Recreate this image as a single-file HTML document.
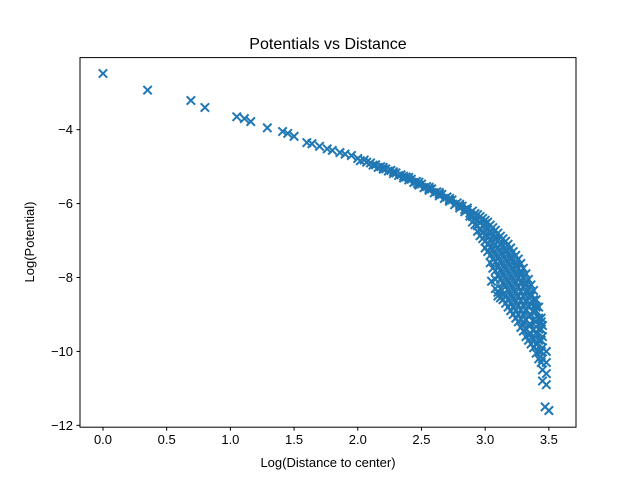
<!DOCTYPE html>
<html><head><meta charset="utf-8"><style>
body{margin:0;background:#fff}
svg{display:block;font-family:"Liberation Sans","DejaVu Sans",sans-serif}
</style></head><body>
<svg id="chart" width="640" height="480">
<rect width="640" height="480" fill="#fff"/>
<text x="328" y="49" font-size="16" text-anchor="middle">Potentials vs Distance</text>
<text x="328" y="467" font-size="13" text-anchor="middle">Log(Distance to center)</text>
<text x="34" y="242" font-size="13" text-anchor="middle" transform="rotate(-90 34 242)">Log(Potential)</text>
<g id="marks"></g>
<g id="axes"></g>
<rect x="80" y="57.6" width="496" height="369.6" fill="none" stroke="#000" stroke-width="1"/>
</svg>
<script>
const xTicks=[0,0.5,1,1.5,2,2.5,3,3.5];
const xTickLabels=["0.0","0.5","1.0","1.5","2.0","2.5","3.0","3.5"];
const yTicks=[-4,-6,-8,-10,-12];
const yTickLabels=["\u22124","\u22126","\u22128","\u221210","\u221212"];
const sparseX=[0,0.35,0.69,0.80,1.05,1.11,1.16,1.29,1.41,1.45,1.50,1.60,1.64,1.70,1.76,1.80,1.86,1.90,1.95,2.00,2.05,2.10,2.14,2.18,2.22,2.26,2.30,2.34,2.38,2.42,2.46,2.50,2.54,2.58,2.62,2.66,2.70,2.74,2.78,2.82,2.86,2.47,2.56,2.64,2.72,2.80,2.84,2.88,2.36,2.28,2.20];
const sparseY=[-2.48,-2.93,-3.21,-3.40,-3.65,-3.70,-3.78,-3.95,-4.05,-4.10,-4.18,-4.35,-4.38,-4.45,-4.52,-4.56,-4.62,-4.66,-4.70,-4.78,-4.82,-4.90,-4.95,-5.00,-5.06,-5.10,-5.17,-5.22,-5.28,-5.34,-5.40,-5.47,-5.54,-5.60,-5.68,-5.75,-5.82,-5.90,-5.98,-6.07,-6.17,-5.46,-5.60,-5.74,-5.90,-6.06,-6.16,-6.26,-5.26,-5.14,-5.02];
const curveX=[2.02,2.07,2.12,2.16,2.20,2.24,2.28,2.32,2.36,2.40,2.44,2.48,2.52,2.56,2.60,2.64,2.68,2.72,2.76,2.80,2.84,2.88,2.40,2.48,2.56,2.64,2.72,2.80,2.86];
const curveY=[-4.84,-4.88,-4.96,-5.02,-5.07,-5.12,-5.19,-5.24,-5.31,-5.36,-5.43,-5.50,-5.57,-5.64,-5.71,-5.79,-5.86,-5.94,-6.03,-6.12,-6.22,-6.34,-5.29,-5.42,-5.56,-5.70,-5.86,-6.02,-6.12];
const bandX=[2.90,2.90,2.90,2.94,2.94,2.94,2.94,2.98,2.98,2.98,2.98,3.02,3.02,3.02,3.02,3.02,3.06,3.06,3.06,3.06,3.06,3.06,3.10,3.10,3.10,3.10,3.10,3.10,3.10,3.14,3.14,3.14,3.14,3.14,3.14,3.14,3.14,3.18,3.18,3.18,3.18,3.18,3.18,3.18,3.18,3.22,3.22,3.22,3.22,3.22,3.22,3.22,3.22,3.26,3.26,3.26,3.26,3.26,3.26,3.26,3.26,3.30,3.30,3.30,3.30,3.30,3.30,3.30,3.30,3.34,3.34,3.34,3.34,3.34,3.34,3.34,3.34,3.38,3.38,3.38,3.38,3.38,3.38,3.38,3.42,3.42,3.42,3.42,3.42,3.42,3.45,3.45,3.45,3.45,3.45,3.45,3.48,3.48,3.48,3.48,3.47,3.50,3.05,3.08,3.10,3.00,3.04,3.08,3.12,3.16,3.20,3.24,3.28,3.32,3.36,3.40,3.44];
const bandY=[-6.2,-6.35,-6.5,-6.3,-6.45,-6.6,-6.75,-6.4,-6.6,-6.8,-6.95,-6.5,-6.7,-6.9,-7.1,-7.3,-6.65,-6.85,-7.05,-7.25,-7.5,-7.75,-6.8,-7.0,-7.2,-7.45,-7.7,-7.95,-8.4,-6.95,-7.15,-7.4,-7.65,-7.9,-8.15,-8.45,-8.6,-7.1,-7.35,-7.6,-7.85,-8.1,-8.35,-8.6,-8.8,-7.3,-7.55,-7.8,-8.05,-8.3,-8.55,-8.8,-9.0,-7.5,-7.75,-8.0,-8.25,-8.5,-8.75,-9.0,-9.2,-7.75,-8.0,-8.25,-8.5,-8.75,-9.0,-9.25,-9.45,-8.05,-8.3,-8.55,-8.8,-9.05,-9.3,-9.55,-9.7,-8.35,-8.6,-8.9,-9.15,-9.4,-9.65,-9.9,-8.8,-9.1,-9.4,-9.7,-10.0,-10.2,-9.3,-9.6,-9.9,-10.2,-10.5,-10.8,-10.0,-10.3,-10.6,-10.9,-11.5,-11.6,-8.1,-8.3,-8.5,-6.55,-6.75,-6.95,-7.1,-7.3,-7.5,-7.7,-7.95,-8.2,-8.5,-8.8,-9.2];
const band2X=[2.92,2.92,2.92,2.96,2.96,2.96,2.96,3.00,3.00,3.00,3.00,3.00,3.04,3.04,3.04,3.04,3.04,3.04,3.08,3.08,3.08,3.08,3.08,3.08,3.08,3.12,3.12,3.12,3.12,3.12,3.12,3.12,3.12,3.16,3.16,3.16,3.16,3.16,3.16,3.16,3.16,3.20,3.20,3.20,3.20,3.20,3.20,3.20,3.20,3.24,3.24,3.24,3.24,3.24,3.24,3.24,3.24,3.28,3.28,3.28,3.28,3.28,3.28,3.28,3.28,3.32,3.32,3.32,3.32,3.32,3.32,3.32,3.32,3.36,3.36,3.36,3.36,3.36,3.36,3.36,3.40,3.40,3.40,3.40,3.40,3.40,3.44,3.44,3.44,3.44,3.44];
const band2Y=[-6.27,-6.42,-6.57,-6.35,-6.52,-6.7,-6.87,-6.45,-6.65,-6.85,-7.02,-7.2,-6.58,-6.78,-6.98,-7.18,-7.4,-7.6,-6.72,-6.92,-7.12,-7.35,-7.58,-7.82,-8.05,-6.88,-7.08,-7.3,-7.55,-7.8,-8.05,-8.3,-8.55,-7.02,-7.25,-7.5,-7.75,-8.0,-8.25,-8.5,-8.7,-7.2,-7.45,-7.7,-7.95,-8.2,-8.45,-8.7,-8.9,-7.4,-7.65,-7.9,-8.15,-8.4,-8.65,-8.9,-9.1,-7.62,-7.87,-8.12,-8.37,-8.62,-8.87,-9.12,-9.35,-7.9,-8.15,-8.4,-8.65,-8.9,-9.15,-9.4,-9.6,-8.2,-8.45,-8.72,-9.0,-9.28,-9.52,-9.8,-8.6,-8.9,-9.2,-9.5,-9.8,-10.05,-9.1,-9.4,-9.7,-10.0,-10.3];
const xMin=-0.1805,xMax=3.713,yMin=-12.05,yMax=-2.05;
const L=80,R=576,T=57.6,B=427.2;
const sx=v=>L+(v-xMin)/(xMax-xMin)*(R-L);
const sy=v=>B-(v-yMin)/(yMax-yMin)*(B-T);
const NS="http://www.w3.org/2000/svg";
const marks=document.getElementById('marks');
const axes=document.getElementById('axes');
function drawX(x,y){
  const cx=sx(x),cy=sy(y),h=4.2;
  const p=document.createElementNS(NS,'path');
  p.setAttribute('d',`M${cx-h},${cy-h}L${cx+h},${cy+h}M${cx-h},${cy+h}L${cx+h},${cy-h}`);
  p.setAttribute('stroke','#1f77b4');p.setAttribute('stroke-width','2');
  
  
  marks.appendChild(p);
}
sparseX.forEach((x,i)=>drawX(x,sparseY[i]));
curveX.forEach((x,i)=>drawX(x,curveY[i]));
bandX.forEach((x,i)=>drawX(x,bandY[i]));
band2X.forEach((x,i)=>drawX(x,band2Y[i]));
xTicks.forEach((t,i)=>{
  const x=sx(t);
  const l=document.createElementNS(NS,'line');
  l.setAttribute('x1',x);l.setAttribute('x2',x);l.setAttribute('y1',B);l.setAttribute('y2',B+3.5);l.setAttribute('stroke','#000');
  
  
  axes.appendChild(l);
  const tx=document.createElementNS(NS,'text');
  tx.setAttribute('x',x);tx.setAttribute('y',B+17);tx.setAttribute('font-size','13');tx.setAttribute('text-anchor','middle');
  tx.textContent=xTickLabels[i];
  
  
  axes.appendChild(tx);
});
yTicks.forEach((t,i)=>{
  const y=sy(t);
  const l=document.createElementNS(NS,'line');
  l.setAttribute('x1',L-3.5);l.setAttribute('x2',L);l.setAttribute('y1',y);l.setAttribute('y2',y);l.setAttribute('stroke','#000');
  
  
  axes.appendChild(l);
  const tx=document.createElementNS(NS,'text');
  tx.setAttribute('x',L-7);tx.setAttribute('y',y+4.5);tx.setAttribute('font-size','13');tx.setAttribute('text-anchor','end');
  tx.textContent=yTickLabels[i];
  
  
  axes.appendChild(tx);
});
</script>
</body></html>
